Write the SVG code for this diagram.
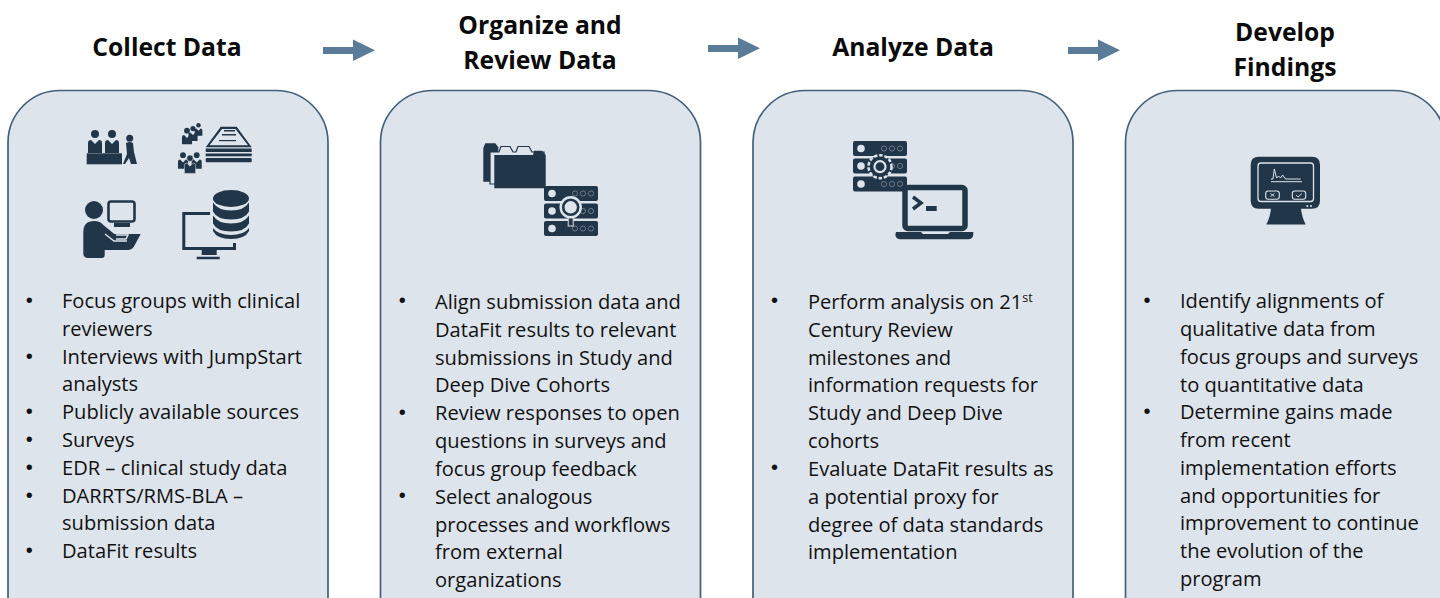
<svg xmlns="http://www.w3.org/2000/svg" width="1440" height="598" viewBox="0 0 1440 598">
<style>
text{font-family:"Open Sans","Noto Sans","Liberation Sans",sans-serif;fill:#000}
.h{font-size:24.700px;font-weight:700;text-anchor:middle;fill:#0b0b0b}
.b text{font-size:20.100px;fill:#111}
.b text.u{font-family:"Liberation Sans",sans-serif;font-size:20px}
.card{fill:#dde4eb;stroke:#44607a;stroke-width:1.700}
.i{fill:#22364a}
.w{fill:#dde4eb}
.l{fill:none;stroke:#22364a}
.d{fill:none;stroke:#dde4eb}
.a{fill:#5a7c99}
</style>
<defs>
<g id="rack"><rect width="54" height="15" rx="2" class="i"/><circle cx="8" cy="7.500" r="3.800" class="w"/><g class="d" stroke-width=".5" opacity=".75"><circle cx="31" cy="7.500" r="2.600"/><circle cx="39" cy="7.500" r="2.600"/><circle cx="47" cy="7.500" r="2.600"/></g></g>
<g id="p"><circle cx="0" cy="-6" r="4"/><path d="M-7 13V3q0-3 3-3l4 4 4-4q3 0 3 3V13z"/></g>
</defs>
<g id="connectors">
<path class="a" d="M323 47H353V39.500L375 50.300 353 61V54H323z"/>
<path class="a" d="M708 45H738V37.500L760 48.300 738 59V52H708z"/>
<path class="a" d="M1068 47H1098V39.500L1120 50.300 1098 61V54H1068z"/>
</g>
<g id="node-collect">
<rect class="card" x="8" y="90.500" width="320" height="560" rx="52"/>
<text class="h" x="167" y="56">Collect Data</text>
<g class="i">
<rect x="86.700" y="153.300" width="35.300" height="11"/>
<use href="#p" x="95" y="140"/><use href="#p" x="112" y="140"/>
<circle cx="129.700" cy="138.300" r="3.500"/><path d="M126 143q4-2 7 0l1 9 3 12h-6l-2-6-4 6h-2l4-10z"/>
<use href="#p" transform="translate(198.500 128.500) scale(.55)"/><use href="#p" transform="translate(193 132.500) scale(.65)"/><use href="#p" transform="translate(187 135) scale(.72)"/>
<use href="#p" transform="translate(183 159.500) scale(.72)"/><use href="#p" transform="translate(196.700 159.500) scale(.72)"/><g stroke="#dde4eb" stroke-width=".7"><use href="#p" transform="translate(190 163) scale(.8)"/></g>
<path d="M205.700 147.300 220.700 126.700H236.700L251.700 147.300zM209.500 145.300H248L235.500 129H222z" fill-rule="evenodd"/>
<rect x="205.700" y="148.500" width="46" height="3.500"/><rect x="205.700" y="153.500" width="46" height="2.800"/><rect x="205.700" y="158" width="46" height="4.300" rx="1"/>
<rect x="224" y="130" width="11" height="1.500"/><rect x="222" y="134" width="14" height="1.500"/><rect x="219" y="140" width="17" height="1.200"/>
<circle cx="94" cy="210" r="9"/><path d="M83.300 232q0-11 11-11 6 0 9 4l11 9h26.400l-7 13q-2 3-5 3h-24v5q0 3-3 3H88q-4.700 0-4.700-5z"/>
<rect x="108.500" y="201.500" width="26" height="20" rx="2.500" fill="none" stroke="#22364a" stroke-width="2.600"/>
<rect x="114" y="223" width="16" height="4"/>
<path class="d" stroke-width="1.400" d="M105 234l9 7h13M116 235h12l-2 4h-10"/>
<path class="l" stroke-width="3" d="M210 213.500H183.800V248.500H234.500V243"/>
<path d="M201.700 250h15v5h-15zM196.700 256.700h23v2.500h-23z"/>
<ellipse cx="231" cy="198.500" rx="18" ry="8.500"/><path d="M213 202.500q5 8 18 8t18-8v9q-4 8-18 8t-18-8zM213 215.500q5 8 18 8t18-8v8q-4 8-18 8t-18-8zM213 228q5 7 18 7t18-7v3q-4 8-18 8t-18-8z"/>
</g>
<g class="b">
<text class="u" x="25.800" y="307">•</text><text x="62" y="308">Focus groups with clinical</text><text x="62" y="336">reviewers</text>
<text class="u" x="25.800" y="363">•</text><text x="62" y="364">Interviews with JumpStart</text><text x="62" y="391">analysts</text>
<text class="u" x="25.800" y="418">•</text><text x="62" y="419">Publicly available sources</text>
<text class="u" x="25.800" y="446">•</text><text x="62" y="447">Surveys</text>
<text class="u" x="25.800" y="474">•</text><text x="62" y="475">EDR – clinical study data</text>
<text class="u" x="25.800" y="502">•</text><text x="62" y="503">DARRTS/RMS-BLA –</text><text x="62" y="530">submission data</text>
<text class="u" x="25.800" y="557">•</text><text x="62" y="558">DataFit results</text>
</g>
</g>
<g id="node-organize">
<rect class="card" x="380.500" y="90.500" width="320" height="560" rx="52"/>
<text class="h"><tspan x="540" y="34">Organize and</tspan><tspan x="540" y="69">Review Data</tspan></text>
<g class="i">
<path d="M483.300 148l2-4.700h10l3 4v34.400h-15z"/>
<path fill="#dde4eb" stroke="#22364a" stroke-width="1.200" d="M490 152h9l2-5.500h9l3 5.500h3l2-5.500h11l3 5.500h12v32h-54z"/>
<path d="M494.300 155H533l1-4.300h8l3.700 4.300v33.300H494.300z"/>
</g>
<use href="#rack" x="544" y="186"/><use href="#rack" x="544" y="203.500"/><use href="#rack" x="544" y="221"/>
<rect x="568.200" y="216" width="5" height="10" class="i" stroke="#dde4eb" stroke-width="1"/>
<circle cx="570.700" cy="207.300" r="9" fill="#dde4eb" stroke="#dde4eb" stroke-width="4.500"/><circle cx="570.700" cy="207.300" r="7.500" fill="#dde4eb" stroke="#22364a" stroke-width="2.600"/>
<g class="b">
<text class="u" x="398.800" y="307">•</text><text x="435" y="309">Align submission data and</text><text x="435" y="337">DataFit results to relevant</text><text x="435" y="365">submissions in Study and</text><text x="435" y="392">Deep Dive Cohorts</text>
<text class="u" x="398.800" y="419">•</text><text x="435" y="420">Review responses to open</text><text x="435" y="448">questions in surveys and</text><text x="435" y="476">focus group feedback</text>
<text class="u" x="398.800" y="502">•</text><text x="435" y="504">Select analogous</text><text x="435" y="532">processes and workflows</text><text x="435" y="559">from external</text><text x="435" y="587">organizations</text>
</g>
</g>
<g id="node-analyze">
<rect class="card" x="753" y="90.500" width="320" height="560" rx="52"/>
<text class="h" x="913" y="56">Analyze Data</text>
<use href="#rack" x="853" y="141"/><use href="#rack" x="853" y="158.500"/><use href="#rack" x="853" y="176.500"/>
<circle cx="880" cy="166.700" r="11.500" fill="#22364a" stroke="#dde4eb" stroke-width="2.500" stroke-dasharray="3.500 1.800"/><circle cx="880" cy="166.700" r="5.500" fill="#22364a" stroke="#dde4eb" stroke-width="2.200"/>
<rect x="905" y="187.500" width="60" height="41" rx="3" fill="#dde4eb" stroke="#22364a" stroke-width="5.500"/>
<path class="i" d="M896 232h25l2 2h25l2-2h23.300v3q-1 4.300-5 4.300h-68q-4 0-5-4.300z"/>
<path fill="none" stroke="#22364a" stroke-width="3.500" d="M913 197l8 6-8 6"/>
<rect x="926" y="206" width="10.700" height="5" class="i"/>
<g class="b">
<text class="u" x="771" y="307">•</text><text x="808" y="309">Perform analysis on 21<tspan font-size="12.500" dy="-7">st</tspan></text><text x="808" y="337">Century Review</text><text x="808" y="365">milestones and</text><text x="808" y="392">information requests for</text><text x="808" y="420">Study and Deep Dive</text><text x="808" y="448">cohorts</text>
<text class="u" x="771" y="474">•</text><text x="808" y="476">Evaluate DataFit results as</text><text x="808" y="504">a potential proxy for</text><text x="808" y="532">degree of data standards</text><text x="808" y="559">implementation</text>
</g>
</g>
<g id="node-findings">
<rect class="card" x="1125.500" y="90.500" width="320" height="560" rx="52"/>
<text class="h"><tspan x="1285" y="41">Develop</tspan><tspan x="1285" y="76">Findings</tspan></text>
<path class="i" d="M1258.700 156.700h53.300q8 0 8 8v36q0 8-8 8h-11q1 9 4.700 15.700h-39.400q3.700-6.700 4.700-15.700h-12.300q-8 0-8-8v-36q0-8 8-8z"/>
<rect x="1258" y="163" width="55.500" height="38.500" rx="3" class="d" stroke-width="1.300"/>
<path class="d" stroke-width="1" d="M1271 179h2l1.300-10 2.300 9 2-2 2 2 2-3 3 4h15M1271 181.700h31"/>
<rect x="1265.700" y="191" width="13.600" height="8.300" rx="2.500" class="d" stroke-width="1.100"/><rect x="1292.300" y="191" width="13.400" height="8.300" rx="2.500" class="d" stroke-width="1.100"/>
<path class="d" d="M1270.500 193.500l4 3M1274.500 193.500l-4 3M1296 195l2 2 4-3.500" stroke-width=".9"/>
<circle cx="1307.300" cy="206" r="1" class="w"/><circle cx="1311" cy="206" r="1" class="w"/>
<g class="b">
<text class="u" x="1143.500" y="307">•</text><text x="1180" y="308">Identify alignments of</text><text x="1180" y="336">qualitative data from</text><text x="1180" y="364">focus groups and surveys</text><text x="1180" y="392">to quantitative data</text>
<text class="u" x="1143.500" y="418">•</text><text x="1180" y="419">Determine gains made</text><text x="1180" y="447">from recent</text><text x="1180" y="475">implementation efforts</text><text x="1180" y="503">and opportunities for</text><text x="1180" y="530">improvement to continue</text><text x="1180" y="558">the evolution of the</text><text x="1180" y="586">program</text>
</g>
</g>
</svg>
